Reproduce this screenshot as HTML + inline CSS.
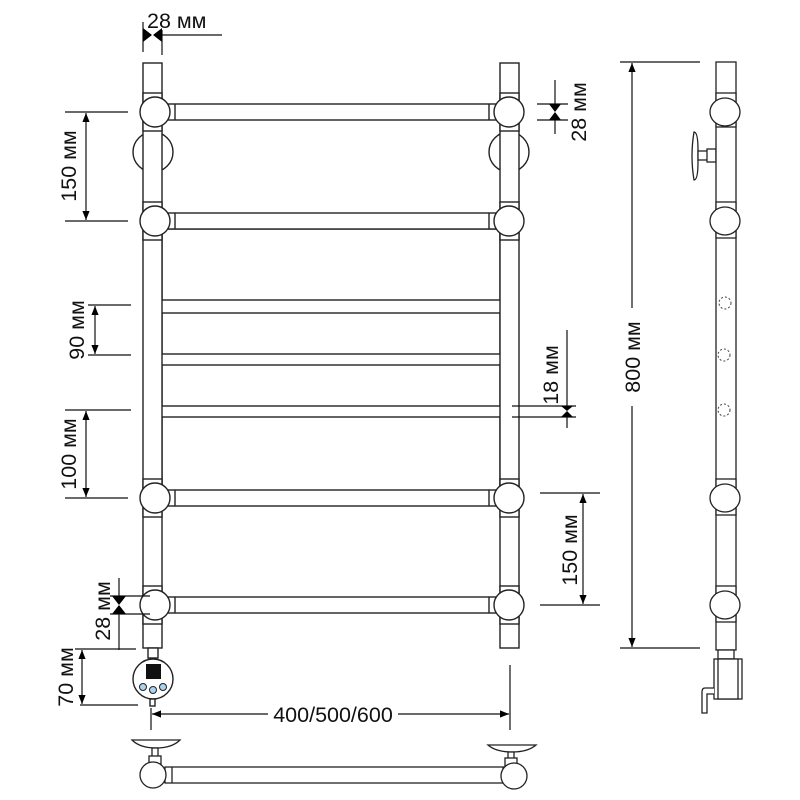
<!DOCTYPE html>
<html><head><meta charset="utf-8"><style>
html,body{margin:0;padding:0;background:#fff}
svg{display:block}
text{font-family:"Liberation Sans",sans-serif;font-size:21.5px;fill:#111}
</style></head><body>
<svg width="800" height="800" viewBox="0 0 800 800" xmlns="http://www.w3.org/2000/svg">
<defs>
<marker id="a" viewBox="0 0 10 10" refX="10" refY="5" markerWidth="9" markerHeight="9" orient="auto-start-reverse" markerUnits="userSpaceOnUse"><path d="M0,1 L10,5 L0,9z" fill="#000"/></marker>
</defs>
<g fill="#fff" stroke="#222" stroke-width="1.4">
<rect x="162" y="229" width="338" height="71"/>
<rect x="162" y="313" width="338" height="41"/>
<rect x="162" y="365" width="338" height="41"/>
<rect x="162" y="417" width="338" height="81"/>
<circle cx="153" cy="152" r="20"/>
<circle cx="509" cy="152" r="20"/>
<rect x="143" y="63" width="19" height="585"/>
<rect x="500" y="63" width="19" height="585"/>
<rect x="162" y="104" width="338" height="16"/>
<rect x="162" y="213" width="338" height="16"/>
<rect x="162" y="490" width="338" height="16"/>
<rect x="162" y="597" width="338" height="16"/>
<line x1="175" y1="104" x2="175" y2="120"/><line x1="489" y1="104" x2="489" y2="120"/>
<line x1="175" y1="213" x2="175" y2="229"/><line x1="489" y1="213" x2="489" y2="229"/>
<line x1="175" y1="490" x2="175" y2="506"/><line x1="489" y1="490" x2="489" y2="506"/>
<line x1="175" y1="597" x2="175" y2="613"/><line x1="489" y1="597" x2="489" y2="613"/>
<rect x="143" y="93" width="19" height="38"/><rect x="500" y="93" width="19" height="38"/>
<rect x="143" y="202" width="19" height="38"/><rect x="500" y="202" width="19" height="38"/>
<rect x="143" y="479" width="19" height="38"/><rect x="500" y="479" width="19" height="38"/>
<rect x="143" y="586" width="19" height="38"/><rect x="500" y="586" width="19" height="38"/>
<circle cx="155" cy="112" r="15"/><circle cx="509" cy="112" r="15"/>
<circle cx="155" cy="221" r="15"/><circle cx="509" cy="221" r="15"/>
<circle cx="155" cy="498" r="15"/><circle cx="509" cy="498" r="15"/>
<circle cx="155" cy="605" r="15"/><circle cx="509" cy="605" r="15"/>
<rect x="148" y="648" width="10" height="10"/>
<circle cx="153" cy="679" r="20"/>
<rect x="150" y="699" width="5" height="7"/>
</g>
<rect x="146" y="664" width="15" height="15" fill="#111"/>
<g fill="#a8d4f0" stroke="#222" stroke-width="1"><circle cx="143" cy="687" r="3.5"/><circle cx="153" cy="690" r="3.5"/><circle cx="163" cy="687" r="3.5"/></g>

<g stroke="#111" stroke-width="1.2" fill="none">
<line x1="143" y1="22" x2="143" y2="52"/><line x1="162" y1="30" x2="162" y2="55"/>
<line x1="162" y1="35" x2="222" y2="35"/>
<line x1="65" y1="112" x2="128" y2="112"/><line x1="65" y1="221" x2="128" y2="221"/>
<line x1="86" y1="113" x2="86" y2="220" marker-start="url(#a)" marker-end="url(#a)"/>
<line x1="88" y1="305" x2="131" y2="305"/><line x1="88" y1="355" x2="131" y2="355"/>
<line x1="95" y1="306" x2="95" y2="354" marker-start="url(#a)" marker-end="url(#a)"/>
<line x1="65" y1="410" x2="131" y2="410"/><line x1="65" y1="498" x2="128" y2="498"/>
<line x1="86" y1="411" x2="86" y2="497" marker-start="url(#a)" marker-end="url(#a)"/>
<line x1="110" y1="596" x2="150" y2="596"/><line x1="110" y1="614" x2="150" y2="614"/>
<line x1="119" y1="578" x2="119" y2="596"/><line x1="119" y1="614" x2="119" y2="650"/>
<line x1="75" y1="649" x2="136" y2="649"/><line x1="80" y1="705" x2="138" y2="705"/>
<line x1="82" y1="650" x2="82" y2="704" marker-start="url(#a)" marker-end="url(#a)"/>
<line x1="151" y1="708" x2="151" y2="730"/><line x1="510" y1="665" x2="510" y2="730"/>
<line x1="152" y1="714" x2="268" y2="714" marker-start="url(#a)"/><line x1="398" y1="714" x2="509" y2="714" marker-end="url(#a)"/>
<line x1="537" y1="104" x2="568" y2="104"/><line x1="537" y1="120" x2="568" y2="120"/>
<line x1="555" y1="80" x2="555" y2="104"/><line x1="555" y1="120" x2="555" y2="134"/>
<line x1="512" y1="406" x2="576" y2="406"/><line x1="512" y1="417" x2="576" y2="417"/>
<line x1="567" y1="330" x2="567" y2="406"/><line x1="567" y1="417" x2="567" y2="428"/>
<line x1="540" y1="493" x2="600" y2="493"/><line x1="540" y1="605" x2="600" y2="605"/>
<line x1="583" y1="494" x2="583" y2="604" marker-start="url(#a)" marker-end="url(#a)"/>
<line x1="620" y1="62" x2="700" y2="62"/><line x1="620" y1="648" x2="700" y2="648"/>
<line x1="632" y1="63" x2="632" y2="308" marker-start="url(#a)"/><line x1="632" y1="406" x2="632" y2="647" marker-end="url(#a)"/>
</g>
<g fill="#000">
<path d="M143,28 L152,35 L143,42Z M162,28 L153,35 L162,42Z"/>
<path d="M112,596 L119,605 L126,596Z M112,614 L119,605 L126,614Z"/>
<path d="M549,104 L555,112 L561,104Z M549,120 L555,112 L561,120Z"/>
<path d="M561,406 L567,411 L573,406Z M561,417 L567,411 L573,417Z"/>
</g>
<text x="147" y="28">28 мм</text>
<text transform="translate(76,166) rotate(-90)" text-anchor="middle">150 мм</text>
<text transform="translate(84,330) rotate(-90)" text-anchor="middle">90 мм</text>
<text transform="translate(76,454) rotate(-90)" text-anchor="middle">100 мм</text>
<text transform="translate(110,611) rotate(-90)" text-anchor="middle">28 мм</text>
<text transform="translate(73,677) rotate(-90)" text-anchor="middle">70 мм</text>
<text x="333" y="722" text-anchor="middle">400/500/600</text>
<text transform="translate(586,112) rotate(-90)" text-anchor="middle">28 мм</text>
<text transform="translate(558,375) rotate(-90)" text-anchor="middle">18 мм</text>
<text transform="translate(577,550) rotate(-90)" text-anchor="middle">150 мм</text>
<text transform="translate(640,357) rotate(-90)" text-anchor="middle">800 мм</text>

<g fill="#fff" stroke="#222" stroke-width="1.3">
<path d="M694,132 Q690,156 694,180 Q698,180 698,162 L698,150 Q698,132 694,132 Z"/>
<rect x="698" y="151" width="10" height="9"/><rect x="707" y="149" width="9" height="13"/>
<rect x="716" y="62" width="20" height="588"/>
<rect x="716" y="93" width="20" height="34"/><rect x="716" y="202" width="20" height="36"/>
<rect x="716" y="479" width="20" height="36"/><rect x="716" y="586" width="20" height="36"/>
<ellipse cx="725" cy="112" rx="15" ry="14"/>
<ellipse cx="725" cy="221" rx="15" ry="14"/>
<ellipse cx="725" cy="498" rx="15" ry="14"/>
<ellipse cx="725" cy="605" rx="15" ry="14"/>
<rect x="718" y="650" width="16" height="9"/>
<rect x="714" y="659" width="28" height="40"/><rect x="718" y="659" width="20" height="40"/>
<path d="M714,688 L705,688 Q702,688 702,692 L702,713 L707,713 L707,694 L714,694"/>
</g>
<g fill="none" stroke="#444" stroke-width="1" stroke-dasharray="2,2">
<circle cx="725" cy="303" r="6"/><circle cx="724" cy="355" r="6"/><circle cx="724" cy="410" r="6"/>
</g>

<g fill="#fff" stroke="#222" stroke-width="1.3">
<path d="M132,740 L180,740 Q172,748 156,748 Q140,748 132,740 Z"/>
<path d="M488,745 L536,745 Q528,752 512,752 Q496,752 488,745 Z"/>
<rect x="152" y="748" width="6" height="10"/><rect x="149" y="756" width="12" height="8"/>
<rect x="508" y="752" width="6" height="8"/><rect x="505" y="758" width="12" height="8"/>
<rect x="165" y="767" width="345" height="16"/>
<line x1="172" y1="767" x2="172" y2="783"/><line x1="503" y1="767" x2="503" y2="783"/>
<circle cx="153" cy="775" r="13"/><circle cx="514" cy="776" r="13"/>
</g>
</svg>
</body></html>
